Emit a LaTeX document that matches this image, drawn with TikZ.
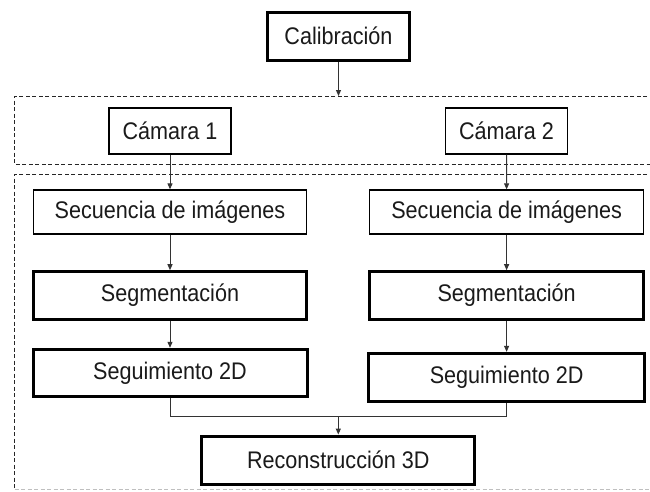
\documentclass[tikz,border=0pt]{standalone}
\usepackage{fontspec}
\setmainfont[FakeStretch=0.9]{Liberation Sans}
\usetikzlibrary{arrows.meta}
\definecolor{ink}{HTML}{1A1A1A}
\definecolor{lineg}{HTML}{333333}
\tikzset{
  box/.style={draw=black, rectangle, inner sep=0pt, text=ink,
    font=\fontsize{24}{28}\selectfont},
  thinbox/.style={box, line width=1.3pt},
  thickbox/.style={box, line width=3pt},
  conn/.style={draw=lineg, line width=1pt},
  arr/.style={conn, -{Triangle[length=6pt,width=5pt]}},
  dashbox/.style={draw=black!85, line width=1pt, dash pattern=on 4pt off 2.5pt}
}
\begin{document}
\begin{tikzpicture}[x=1pt,y=-1pt]
\useasboundingbox (0,0) rectangle (650,491);
\clip (0,0) rectangle (650,491);
\fill[white] (0,0) rectangle (650,491);
% dashed groups
\draw[dashbox] (660,96) -- (14.5,96) -- (14.5,164) -- (660,164);
\draw[dashbox] (660,174) -- (14.5,174) -- (14.5,489);
\draw[dashbox, draw=black!25] (14.5,489) -- (660,489);
% nodes
\node[thickbox, minimum width=142pt, minimum height=48pt] (cal) at (338.5,36) {Calibración};
\coordinate (dtop) at (338.5,96);
\node[thinbox, minimum width=122pt, minimum height=46pt] (cam1) at (170,131) {Cámara 1};
\node[thinbox, minimum width=122pt, minimum height=46pt] (cam2) at (506.5,131) {Cámara 2};
\node[thinbox, minimum width=273.6pt, minimum height=44pt] (sec1) at (170,212) {Secuencia de imágenes};
\node[thinbox, minimum width=273.6pt, minimum height=44pt] (sec2) at (506.6,212) {Secuencia de imágenes};
\node[thickbox, minimum width=273.6pt, minimum height=47.6pt] (seg1) at (170,295.5) {Segmentación};
\node[thickbox, minimum width=273.6pt, minimum height=47.6pt] (seg2) at (506.6,295.5) {Segmentación};
\node[thickbox, minimum width=274pt, minimum height=47.4pt] (sgt1) at (170,373) {Seguimiento 2D};
\node[thickbox, minimum width=275.7pt, minimum height=47.7pt] (sgt2) at (506.6,377.2) {Seguimiento 2D};
\node[thickbox, minimum width=272.7pt, minimum height=48.3pt] (rec) at (338.3,460.2) {Reconstrucción 3D};
\coordinate (m) at (338.3,416.7);
% connectors
\draw[arr] (cal.south) -- (dtop);
\draw[arr] (cam1.south) -- (sec1.north);
\draw[arr] (cam2.south) -- (sec2.north);
\draw[arr] (sec1.south) -- (seg1.north);
\draw[arr] (sec2.south) -- (seg2.north);
\draw[arr] (seg1.south) -- (sgt1.north);
\draw[arr] (seg2.south) -- (sgt2.north);
\draw[conn] (sgt1.south) |- (m) -| (sgt2.south);
\draw[arr] (m) -- (rec.north);
\end{tikzpicture}
\end{document}
